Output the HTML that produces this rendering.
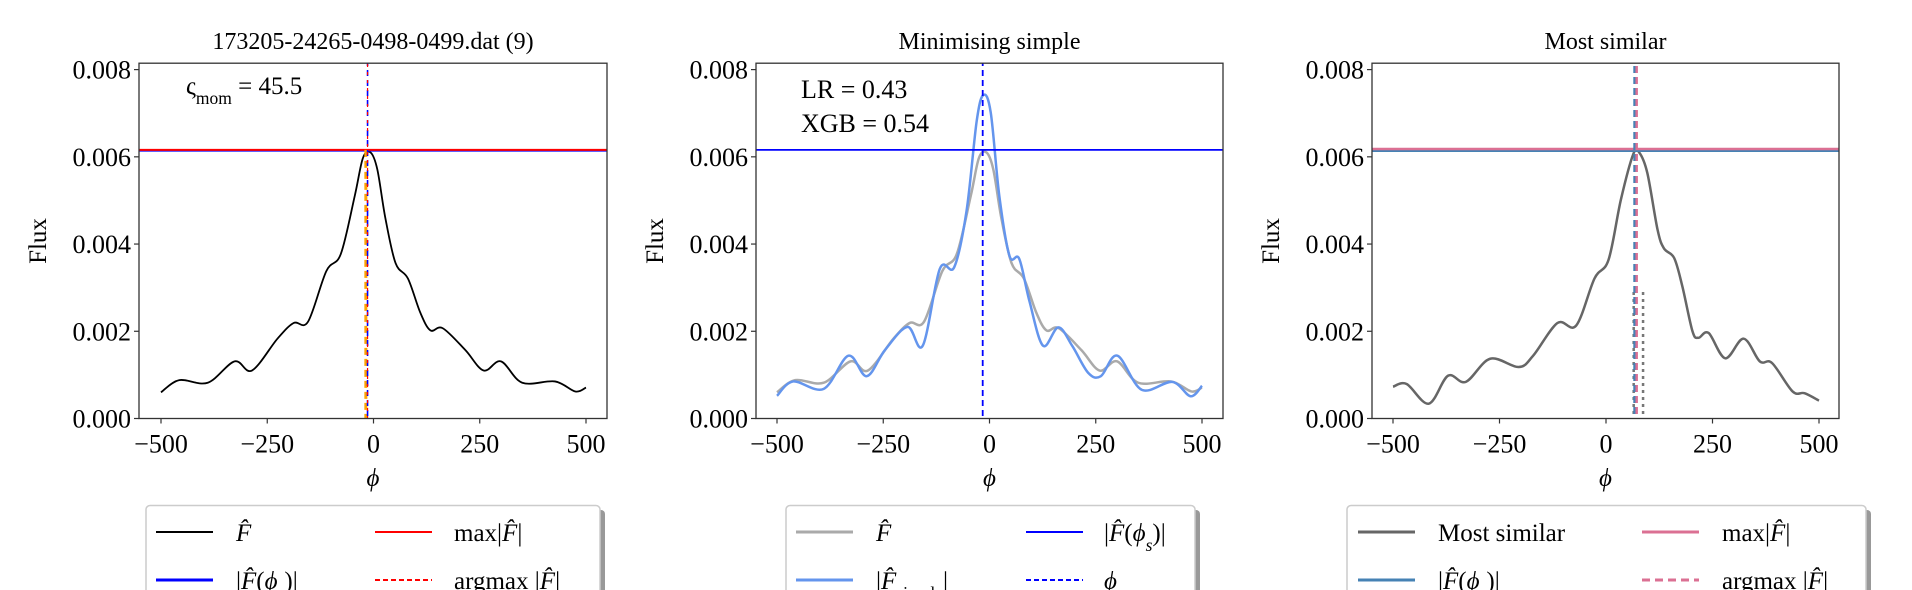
<!DOCTYPE html>
<html><head><meta charset="utf-8"><style>
body{margin:0;background:#fff;width:1912px;height:590px;overflow:hidden}
svg{display:block}
text{font-family:"Liberation Serif",serif;fill:#000}
</style></head><body>
<svg id="fig" width="1912" height="590"></svg>
<script>
// ----- data -----
const fhatX=[-500,-457,-390,-327,-286,-226,-188,-154,-111,-77,-44,-25,-7,9,28,52,81,110,134,163,216,259,300,350,427,475,500];
const fhatY=[0.00060,0.00088,0.00082,0.00131,0.00110,0.00183,0.00219,0.00222,0.00338,0.00377,0.00511,0.00597,0.00610,0.00571,0.00459,0.00356,0.00321,0.00243,0.00202,0.00207,0.00157,0.00110,0.00131,0.00082,0.00085,0.00062,0.00071];
const simpleX=[-500,-462,-390,-332,-289,-246,-193,-157,-117,-83,-54,-30,-14,3,23,47,70,94,126,162,195,232,262,301,358,430,473,500];
const simpleY=[0.00052,0.00085,0.00068,0.00144,0.00097,0.00157,0.00210,0.00167,0.00343,0.00347,0.00476,0.00683,0.00742,0.00701,0.00511,0.00373,0.00366,0.00269,0.00167,0.00209,0.00166,0.00105,0.00097,0.00144,0.00066,0.00084,0.00051,0.00075];
const simX=[-500,-468,-416,-371,-329,-272,-205,-171,-114,-70,-27,6,35,64,78,97,121,136,160,179,203,217,241,280,323,361,390,438,466,500];
const simY=[0.00073,0.00079,0.00034,0.00098,0.00084,0.00137,0.00118,0.00144,0.00219,0.00213,0.00321,0.00364,0.00502,0.00606,0.00610,0.00563,0.00433,0.00390,0.00368,0.00304,0.00200,0.00185,0.00196,0.00138,0.00183,0.00131,0.00127,0.00062,0.00058,0.00041];
const xTicks=[-500,-250,0,250,500];
const xTickLabels=["\u2212500","\u2212250","0","250","500"];
const yTicks=[0,0.002,0.004,0.006,0.008];
const yTickLabels=["0.000","0.002","0.004","0.006","0.008"];
const p1Lines={maxF:0.00616,Fphis:0.00614,phis:-14,argmax:-14,orange:-18};
const p2Lines={Fphis:0.00616,phis:-16};
const p3Lines={maxF:0.00618,Fphis:0.00614,phis:67,argmax:72,dotA:65,dotB:87,dotTop:0.0029};

const NS="http://www.w3.org/2000/svg";
const svg=document.getElementById('fig');
const TOP=63.2,BOT=418.5,Y8=69.6;
function el(tag,attrs,parent){const e=document.createElementNS(NS,tag);for(const k in attrs)e.setAttribute(k,attrs[k]);(parent||svg).appendChild(e);return e;}
function rich(t,parts){parts.forEach(p=>{const s=el('tspan',{},t);if(p.i)s.setAttribute('font-style','italic');if(p.sub){s.setAttribute('baseline-shift','sub');s.setAttribute('font-size','70%');}s.textContent=p.s;});}
function path(xs,ys,sx,sy){const P=xs.map((x,i)=>[sx(x),sy(ys[i])]);let d=`M${P[0][0]},${P[0][1]}`;
 for(let i=0;i<P.length-1;i++){const p0=P[Math.max(0,i-1)],p1=P[i],p2=P[i+1],p3=P[Math.min(P.length-1,i+2)];
 d+=` C${p1[0]+(p2[0]-p0[0])/6},${p1[1]+(p2[1]-p0[1])/6} ${p2[0]-(p3[0]-p1[0])/6},${p2[1]-(p3[1]-p1[1])/6} ${p2[0]},${p2[1]}`;}return d;}

function panel(o){
 const g=el('g',{});
 
 
 const sx=v=>o.x0+(v+500)/1000*(o.x1-o.x0);
 const sy=v=>BOT-v/0.008*(BOT-Y8);
 const clip=el('clipPath',{id:'c'+o.name},g);el('rect',{x:o.L,y:TOP,width:o.R-o.L,height:BOT-TOP},clip);
 const plot=el('g',{'clip-path':`url(#c${o.name})`},g);
 o.draw(plot,sx,sy);
 const frame=el('rect',{x:o.L,y:TOP,width:o.R-o.L,height:BOT-TOP,fill:'none',stroke:'#333','stroke-width':1.3},g);
 
 
 xTicks.forEach((t,i)=>{el('line',{x1:sx(t),x2:sx(t),y1:BOT,y2:BOT+5,stroke:'#333','stroke-width':1.2},g);
  const tx=el('text',{x:sx(t),y:BOT+34,'font-size':26,'text-anchor':'middle'},g);tx.textContent=xTickLabels[i];
  
  });
 yTicks.forEach((t,i)=>{el('line',{x1:o.L,x2:o.L-5,y1:sy(t),y2:sy(t),stroke:'#333','stroke-width':1.2},g);
  const tx=el('text',{x:o.L-8,y:sy(t)+9,'font-size':26,'text-anchor':'end'},g);tx.textContent=yTickLabels[i];
  
  });
 const t=el('text',{x:(o.L+o.R)/2,y:49,'font-size':24,'text-anchor':'middle'},g);t.textContent=o.title;
 
 
 const xl=el('text',{x:(o.L+o.R)/2,y:486,'font-size':25,'font-style':'italic','text-anchor':'middle'},g);xl.textContent='\u03D5';
 
 
 const yl=el('text',{x:0,y:0,'font-size':25,'text-anchor':'middle',transform:`translate(${o.L-93},241) rotate(-90)`},g);yl.textContent='Flux';
 
 
 // legend
 const lg=el('g',{},g);
 
 
 el('rect',{x:o.lgL+5,y:510,width:o.lgR-o.lgL,height:100,rx:4,fill:'#999'},lg);
 el('rect',{x:o.lgL,y:505.5,width:o.lgR-o.lgL,height:100,rx:4,fill:'#fff',stroke:'#ccc','stroke-width':1.5},lg);
 o.legend.forEach(e=>{const hx=o.lgL+e.hx,yy=e.row?580:532;
  const ln=el('line',{x1:hx,x2:hx+57,y1:yy,y2:yy,stroke:e.c,'stroke-width':e.w||2,'stroke-dasharray':e.dash||''},lg);
  
  
  const tx=el('text',{x:hx+e.tx,y:yy+9,'font-size':25},lg);rich(tx,e.t);
  
  });
 if(o.annot)o.annot(g);
}
function hline(p,sx,sy,v,c,w,name){const l=el('line',{x1:0,x2:1912,y1:sy(v),y2:sy(v),stroke:c,'stroke-width':w},p);
 
 }
function vline(p,sx,sy,v,c,w,dash,name,ytop){const l=el('line',{x1:sx(v),x2:sx(v),y1:ytop===undefined?0:sy(ytop),y2:BOT,stroke:c,'stroke-width':w,'stroke-dasharray':dash},p);
 
 }
function curve(p,sx,sy,xs,ys,c,w,name){const e=el('path',{d:path(xs,ys,sx,sy),fill:'none',stroke:c,'stroke-width':w},p);
 
 }

const FH={s:'F\u0302',i:1};
panel({name:'panel-observed',L:139,R:607,x0:161,x1:586,lgL:146,lgR:600,title:'173205-24265-0498-0499.dat (9)',
 draw:(p,sx,sy)=>{curve(p,sx,sy,fhatX,fhatY,'#000',1.8,'fhat-curve');
  hline(p,sx,sy,p1Lines.Fphis,'#0000ff',1.8,'f-phis-line');
  hline(p,sx,sy,p1Lines.maxF,'#ff0000',2,'max-f-line');
  vline(p,sx,sy,p1Lines.orange,'#ffa500',3,'7,4','argmax-orange-line',p1Lines.maxF);
  vline(p,sx,sy,p1Lines.phis,'#0000ff',1.6,'6,4','phis-line');
  vline(p,sx,sy,p1Lines.argmax,'#ff0000',1.2,'3,5','argmax-line');},
 legend:[{hx:10,tx:80,c:'#000',t:[FH]},{hx:229,tx:79,c:'#ff0000',t:[{s:'max|'},FH,{s:'|'}]},
  {hx:10,tx:80,c:'#0000ff',w:3,row:1,t:[{s:'|'},FH,{s:'('},{s:'\u03D5',i:1},{s:'s',i:1,sub:1},{s:')|'}]},{hx:229,tx:79,c:'#ff0000',dash:'5,3',row:1,t:[{s:'argmax |'},FH,{s:'|'}]}],
 annot:g=>{const t=el('text',{x:186,y:94,'font-size':25},g);rich(t,[{s:'\u03C2'},{s:'mom',sub:1},{s:' = 45.5'}]);
  
  }
});
panel({name:'panel-simple',L:756,R:1223,x0:777,x1:1202,lgL:786,lgR:1195,title:'Minimising simple',
 draw:(p,sx,sy)=>{curve(p,sx,sy,fhatX,fhatY,'#aaaaaa',2.5,'fhat-curve');
  curve(p,sx,sy,simpleX,simpleY,'#6495ed',2.5,'simple-curve');
  hline(p,sx,sy,p2Lines.Fphis,'#0000ff',1.8,'f-phis-line');
  vline(p,sx,sy,p2Lines.phis,'#0000ff',1.8,'6,4','phis-line');},
 legend:[{hx:10,tx:80,c:'#aaaaaa',w:3,t:[FH]},{hx:240,tx:78,c:'#0000ff',t:[{s:'|'},FH,{s:'('},{s:'\u03D5',i:1},{s:'s',i:1,sub:1},{s:')|'}]},
  {hx:10,tx:80,c:'#6495ed',w:3,row:1,t:[{s:'|'},FH,{s:'simple',sub:1},{s:'|'}]},{hx:240,tx:78,c:'#0000ff',dash:'5,3',row:1,t:[{s:'\u03D5',i:1},{s:'s',i:1,sub:1}]}],
 annot:g=>{const a=el('text',{x:801,y:98,'font-size':26},g);a.textContent='LR = 0.43';
  
  
  const b=el('text',{x:801,y:132,'font-size':26},g);b.textContent='XGB = 0.54';
  
  }
});
panel({name:'panel-most-similar',L:1372,R:1839,x0:1393,x1:1819,lgL:1347,lgR:1866,title:'Most similar',
 draw:(p,sx,sy)=>{curve(p,sx,sy,simX,simY,'#666666',2.5,'most-similar-curve');
  hline(p,sx,sy,p3Lines.Fphis,'#4682b4',2.5,'f-phis-line');
  hline(p,sx,sy,p3Lines.maxF,'#db7093',2.5,'max-f-line');
  vline(p,sx,sy,p3Lines.dotA,'#777',2.5,'3,4','dotted-line-a',p3Lines.dotTop);
  vline(p,sx,sy,p3Lines.dotB,'#777',2.5,'3,4','dotted-line-b',p3Lines.dotTop);
  vline(p,sx,sy,p3Lines.phis,'#4682b4',2.5,'7,4','phis-line');
  vline(p,sx,sy,p3Lines.argmax,'#db7093',2.5,'7,4','argmax-line');},
 legend:[{hx:11,tx:80,c:'#666666',w:3,t:[{s:'Most similar'}]},{hx:295,tx:80,c:'#db7093',w:3,t:[{s:'max|'},FH,{s:'|'}]},
  {hx:11,tx:80,c:'#4682b4',w:3,row:1,t:[{s:'|'},FH,{s:'('},{s:'\u03D5',i:1},{s:'s',i:1,sub:1},{s:')|'}]},{hx:295,tx:80,c:'#db7093',w:3,dash:'8,5',row:1,t:[{s:'argmax |'},FH,{s:'|'}]}]
});
</script>
</body></html>
